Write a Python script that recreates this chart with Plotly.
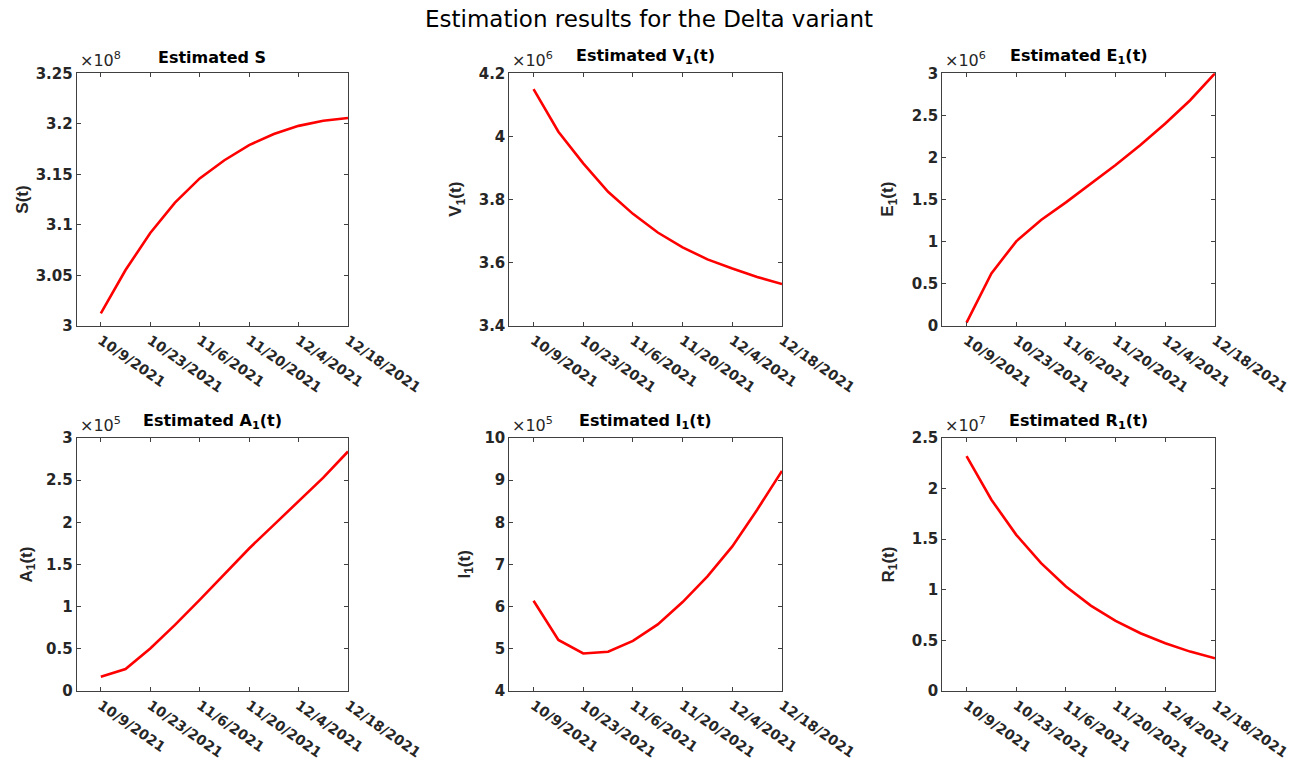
import plotly.graph_objects as go
import pandas as pd

dates = pd.date_range("2021-10-09", "2021-12-18", freq="7D")

S_vals = [3.0125e8, 3.0554e8, 3.092e8, 3.122e8, 3.146e8, 3.164e8, 3.179e8, 3.190e8, 3.198e8, 3.203e8, 3.2058e8]
V1_vals = [4.150e6, 4.015e6, 3.915e6, 3.825e6, 3.755e6, 3.696e6, 3.649e6, 3.611e6, 3.582e6, 3.555e6, 3.533e6]
E1_vals = [0.04e6, 0.625e6, 1.005e6, 1.258e6, 1.468e6, 1.693e6, 1.911e6, 2.148e6, 2.405e6, 2.68e6, 3.0e6]
A1_vals = [0.17e5, 0.26e5, 0.505e5, 0.784e5, 1.08e5, 1.385e5, 1.69e5, 1.97e5, 2.25e5, 2.53e5, 2.84e5]
I1_vals = [6.14e5, 5.21e5, 4.89e5, 4.93e5, 5.19e5, 5.58e5, 6.11e5, 6.72e5, 7.43e5, 8.30e5, 9.22e5]
R1_vals = [2.32e7, 1.89e7, 1.543e7, 1.263e7, 1.032e7, 0.844e7, 0.693e7, 0.571e7, 0.472e7, 0.389e7, 0.323e7]

x_tick_dates = ["2021-10-09", "2021-10-23", "2021-11-06", "2021-11-20", "2021-12-04", "2021-12-18"]
x_tick_labels = ["10/9/2021", "10/23/2021", "11/6/2021", "11/20/2021", "12/4/2021", "12/18/2021"]

panels = [
    dict(vals=S_vals, title="Estimated S", ylabel="S(t)", exp=8,
         yrange=[3.0, 3.25], yticks=[3, 3.05, 3.1, 3.15, 3.2, 3.25],
         ytext=["3", "3.05", "3.1", "3.15", "3.2", "3.25"]),
    dict(vals=V1_vals, title="Estimated V<sub>1</sub>(t)", ylabel="V<sub>1</sub>(t)", exp=6,
         yrange=[3.4, 4.2], yticks=[3.4, 3.6, 3.8, 4.0, 4.2],
         ytext=["3.4", "3.6", "3.8", "4", "4.2"]),
    dict(vals=E1_vals, title="Estimated E<sub>1</sub>(t)", ylabel="E<sub>1</sub>(t)", exp=6,
         yrange=[0, 3], yticks=[0, 0.5, 1, 1.5, 2, 2.5, 3],
         ytext=["0", "0.5", "1", "1.5", "2", "2.5", "3"]),
    dict(vals=A1_vals, title="Estimated A<sub>1</sub>(t)", ylabel="A<sub>1</sub>(t)", exp=5,
         yrange=[0, 3], yticks=[0, 0.5, 1, 1.5, 2, 2.5, 3],
         ytext=["0", "0.5", "1", "1.5", "2", "2.5", "3"]),
    dict(vals=I1_vals, title="Estimated I<sub>1</sub>(t)", ylabel="I<sub>1</sub>(t)", exp=5,
         yrange=[4, 10], yticks=[4, 5, 6, 7, 8, 9, 10],
         ytext=["4", "5", "6", "7", "8", "9", "10"]),
    dict(vals=R1_vals, title="Estimated R<sub>1</sub>(t)", ylabel="R<sub>1</sub>(t)", exp=7,
         yrange=[0, 2.5], yticks=[0, 0.5, 1, 1.5, 2, 2.5],
         ytext=["0", "0.5", "1", "1.5", "2", "2.5"]),
]

W, H = 1298, 766
cols = [(76.7, 348.0), (509.3, 782.0), (942.3, 1215.0)]
rows = [(73.3, 326.0), (438.0, 691.0)]
ylabel_x = [23, 457, 889, 27, 465, 889]

WIDE = "DejaVu Sans, Verdana, sans-serif"
NARROW = "Liberation Sans, Arial, Helvetica, sans-serif"
AX = "#404040"
TXT = "#262626"

fig = go.Figure()
annotations = []
for i, p in enumerate(panels):
    r, c = divmod(i, 3)
    l, rr = cols[c]
    t, b = rows[r]
    n = i + 1
    xa = "x" if n == 1 else f"x{n}"
    ya = "y" if n == 1 else f"y{n}"
    scale = 10 ** p["exp"]
    fig.add_trace(go.Scatter(x=dates, y=p["vals"], mode="lines",
                             line=dict(color="#ff0000", width=2.6),
                             xaxis=xa, yaxis=ya, showlegend=False))
    xkey = "xaxis" if n == 1 else f"xaxis{n}"
    ykey = "yaxis" if n == 1 else f"yaxis{n}"
    fig.layout[xkey] = dict(
        domain=[l / W, rr / W], anchor=ya, type="date",
        range=["2021-10-02 04:00", "2021-12-18"],
        tickvals=x_tick_dates, ticktext=x_tick_labels, tickangle=35,
        ticks="inside", ticklen=4, tickcolor=AX, showgrid=False, zeroline=False,
        showline=True, linecolor=AX, linewidth=1, mirror="ticks",
        tickfont=dict(family=WIDE, size=14, color=TXT, weight="bold"),
        automargin=False,
    )
    fig.layout[ykey] = dict(
        domain=[1 - b / H, 1 - t / H], anchor=xa,
        range=[p["yrange"][0] * scale, p["yrange"][1] * scale],
        tickvals=[v * scale for v in p["yticks"]], ticktext=p["ytext"],
        ticks="inside", ticklen=4, tickcolor=AX, showgrid=False, zeroline=False,
        showline=True, linecolor=AX, linewidth=1, mirror="ticks",
        tickfont=dict(family=WIDE, size=15, color=TXT, weight="bold"),
        automargin=False,
    )
    annotations.append(dict(
        text=f"<b>{p['title']}</b>", x=(l + rr) / 2 / W, y=1 - (t - 4) / H,
        xref="paper", yref="paper", xanchor="center", yanchor="bottom",
        showarrow=False, font=dict(family=WIDE, size=16, color="#000000")))
    annotations.append(dict(
        text=f"×10<sup>{p['exp']}</sup>", x=(l + 1) / W, y=1 - (t - 1) / H,
        xref="paper", yref="paper", xanchor="left", yanchor="bottom",
        showarrow=False, font=dict(family=WIDE, size=16, color=TXT)))
    annotations.append(dict(
        text=f"<b>{p['ylabel']}</b>", x=ylabel_x[i] / W, y=1 - ((t + b) / 2) / H,
        xref="paper", yref="paper", xanchor="center", yanchor="middle",
        textangle=-90, showarrow=False, font=dict(family=NARROW, size=17, color=TXT)))

annotations.append(dict(
    text="Estimation results for the Delta variant", x=0.5, y=1 - 19 / H,
    xref="paper", yref="paper", xanchor="center", yanchor="middle",
    showarrow=False, font=dict(family=WIDE, size=23, color="#000000")))

fig.update_layout(
    width=W, height=H, margin=dict(l=0, r=0, t=0, b=0),
    paper_bgcolor="white", plot_bgcolor="white",
    annotations=annotations, showlegend=False,
)

fig.write_html("out.html")
